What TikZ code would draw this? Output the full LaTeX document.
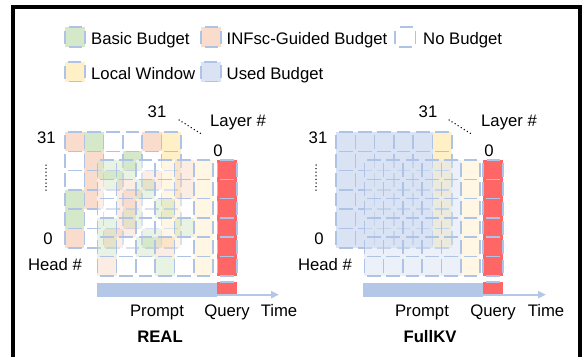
\documentclass[tikz,border=0pt]{standalone}
\usepackage{fontspec}
\setmainfont{Liberation Sans}
\usetikzlibrary{arrows.meta}
\definecolor{cG}{HTML}{D5E8C9}
\definecolor{cP}{HTML}{F9DCCB}
\definecolor{cY}{HTML}{FFF0C8}
\definecolor{cB}{HTML}{DAE3F3}
\definecolor{cW}{HTML}{FFFFFF}
\definecolor{cR}{HTML}{FF6666}
\definecolor{gridc}{HTML}{AFC3E6}
\definecolor{barc}{HTML}{B4C7E7}
\newcommand{\cellsz}{19.3}
% \mylayer{x0}{y0}{opacity}{rows}
\newcommand{\mylayer}[4]{%
  \foreach \myrow [count=\ri from 0] in {#4} {%
    \foreach \mycell [count=\ki from 0] in \myrow {%
      \edef\tmpcol{c\mycell}%
      \fill[fill=\tmpcol, fill opacity=#3] ({#1+\ki*\cellsz},{#2+\ri*\cellsz}) rectangle ++(\cellsz,\cellsz);
    }%
  }%
  \foreach \ri in {0,...,5} {\foreach \ki in {0,...,5} {%
    \draw[gridline] ({#1+\ki*\cellsz},{#2+\ri*\cellsz}) rectangle ++(\cellsz,\cellsz);
  }}%
}
% \myredcol{x0}{y0}{w}
\newcommand{\myredcol}[3]{%
  \foreach \ri in {0,...,5} {%
    \fill[cR] ({#1},{#2+\ri*\cellsz}) rectangle ++(#3,\cellsz);
  }%
  \foreach \ri in {0,...,5} {%
    \draw[gridline] ({#1},{#2+\ri*\cellsz}) rectangle ++(#3,\cellsz);
  }%
}
\begin{document}
\begin{tikzpicture}[x=1pt,y=-1pt,
  lbl/.style={font=\fontsize{16.7}{20}\selectfont, inner sep=0pt, text=black},
  gridline/.style={draw=gridc, line width=1.6pt, dash pattern=on 13.8pt off 5.5pt, dash phase=16.55pt},
  legbox/.style={draw=gridc, line width=1.6pt, dash pattern=on 13pt off 7pt, dash phase=16.5pt},
  timearrow/.style={draw=barc, line width=2pt, -{Triangle[length=8pt,width=7pt]}},
  dotline/.style={line width=1.5pt, dash pattern=on 0pt off 3.6pt, line cap=round}]
\useasboundingbox (0,0) rectangle (585,356);
\clip (0,0) rectangle (585,356);
\fill[white] (0,0) rectangle (585,356);
% frame
\draw[line width=4pt] (13,400) -- (13,7) -- (579.7,7) -- (579.7,400);

% legend
\draw[legbox, fill=cG] (65,27) rectangle (85,47);
\node[lbl, anchor=base west] (lgG) at (91,44.3) {Basic Budget};
\draw[legbox, fill=cP] (201,27) rectangle (221,47);
\node[lbl, anchor=base west] (lgP) at (226.5,44.3) {INFsc-Guided Budget};
\draw[legbox, fill=white] (395,27) rectangle (415.5,47);
\node[lbl, anchor=base west] (lgN) at (423,44.3) {No Budget};
\draw[legbox, fill=cY] (65,62) rectangle (85,81.5);
\node[lbl, anchor=base west] (lgY) at (91,79) {Local Window};
\draw[legbox, fill=cB] (201,62) rectangle (221,81.5);
\node[lbl, anchor=base west] (lgB) at (226.5,79) {Used Budget};

% ===== REAL panel =====
\mylayer{65}{132}{1}{{P,G,W,W,P,Y},{W,P,W,G,W,Y},{W,P,G,W,P,Y},{G,P,W,P,W,Y},{G,W,W,G,W,Y},{P,W,P,W,G,Y}}
\mylayer{97.3}{160}{0.5}{{G,G,W,W,P,Y},{W,P,G,W,P,Y},{W,P,W,G,W,Y},{G,P,W,W,G,Y},{G,W,G,P,W,Y},{P,W,W,G,W,Y}}
\myredcol{217.3}{160}{19.5}
\fill[barc] (97,283.3) rectangle (216.5,296.7);
\coordinate (rS) at (216.5,294.7);
\coordinate (rE) at (279,294.7);
\draw[timearrow] (rS) -- (rE);
\fill[cR] (217.3,282) rectangle (236.8,293.5);
\draw[gridline] (217.3,282) -- (236.8,282);

\node[lbl, anchor=base] (r31t) at (157,117.3) {31};
\node[lbl, anchor=base west] (rLay) at (210,126.7) {Layer \#};
\node[lbl, anchor=base] (r0t) at (218,156) {0};
\draw[dotline] (179,120) -- (203,135);
\node[lbl, anchor=base] (r31l) at (46.5,143.3) {31};
\draw[dotline] (46,165) -- (46,193.5);
\node[lbl, anchor=base] (r0l) at (48,244) {0};
\node[lbl, anchor=base] (rHead) at (55,270.7) {Head \#};
\node[lbl, anchor=base] (rPr) at (157,316.5) {Prompt};
\node[lbl, anchor=base] (rQu) at (227,316.5) {Query};
\node[lbl, anchor=base] (rTi) at (279,316.5) {Time};
\node[lbl, anchor=base, font=\fontsize{16.7}{20}\selectfont\bfseries] (rTitle) at (160,342) {REAL};

% ===== FullKV panel =====
\mylayer{336}{132}{1}{{B,B,B,B,B,Y},{B,B,B,B,B,Y},{B,B,B,B,B,Y},{B,B,B,B,B,Y},{B,B,B,B,B,Y},{B,B,B,B,B,Y}}
\mylayer{364.3}{160}{0.5}{{B,B,B,B,B,Y},{B,B,B,B,B,Y},{B,B,B,B,B,Y},{B,B,B,B,B,Y},{B,B,B,B,B,Y},{B,B,B,B,B,Y}}
\myredcol{483}{160}{19.7}
\fill[barc] (363,283.3) rectangle (483,296.7);
\coordinate (fS) at (483,294.7);
\coordinate (fE) at (546,294.7);
\draw[timearrow] (fS) -- (fE);
\fill[cR] (483,282) rectangle (502.7,293.5);
\draw[gridline] (483,282) -- (502.7,282);

\node[lbl, anchor=base] (f31t) at (428,117.3) {31};
\node[lbl, anchor=base west] (fLay) at (481,126.7) {Layer \#};
\node[lbl, anchor=base] (f0t) at (489,156) {0};
\draw[dotline] (449,120) -- (473,135);
\node[lbl, anchor=base] (f31l) at (318,143.3) {31};
\draw[dotline] (316,165) -- (316,193.5);
\node[lbl, anchor=base] (f0l) at (319,244) {0};
\node[lbl, anchor=base] (fHead) at (325,270.7) {Head \#};
\node[lbl, anchor=base] (fPr) at (422,316.5) {Prompt};
\node[lbl, anchor=base] (fQu) at (493,316.5) {Query};
\node[lbl, anchor=base] (fTi) at (546,316.5) {Time};
\node[lbl, anchor=base, font=\fontsize{16.7}{20}\selectfont\bfseries] (fTitle) at (430,342) {FullKV};
\end{tikzpicture}
\end{document}
